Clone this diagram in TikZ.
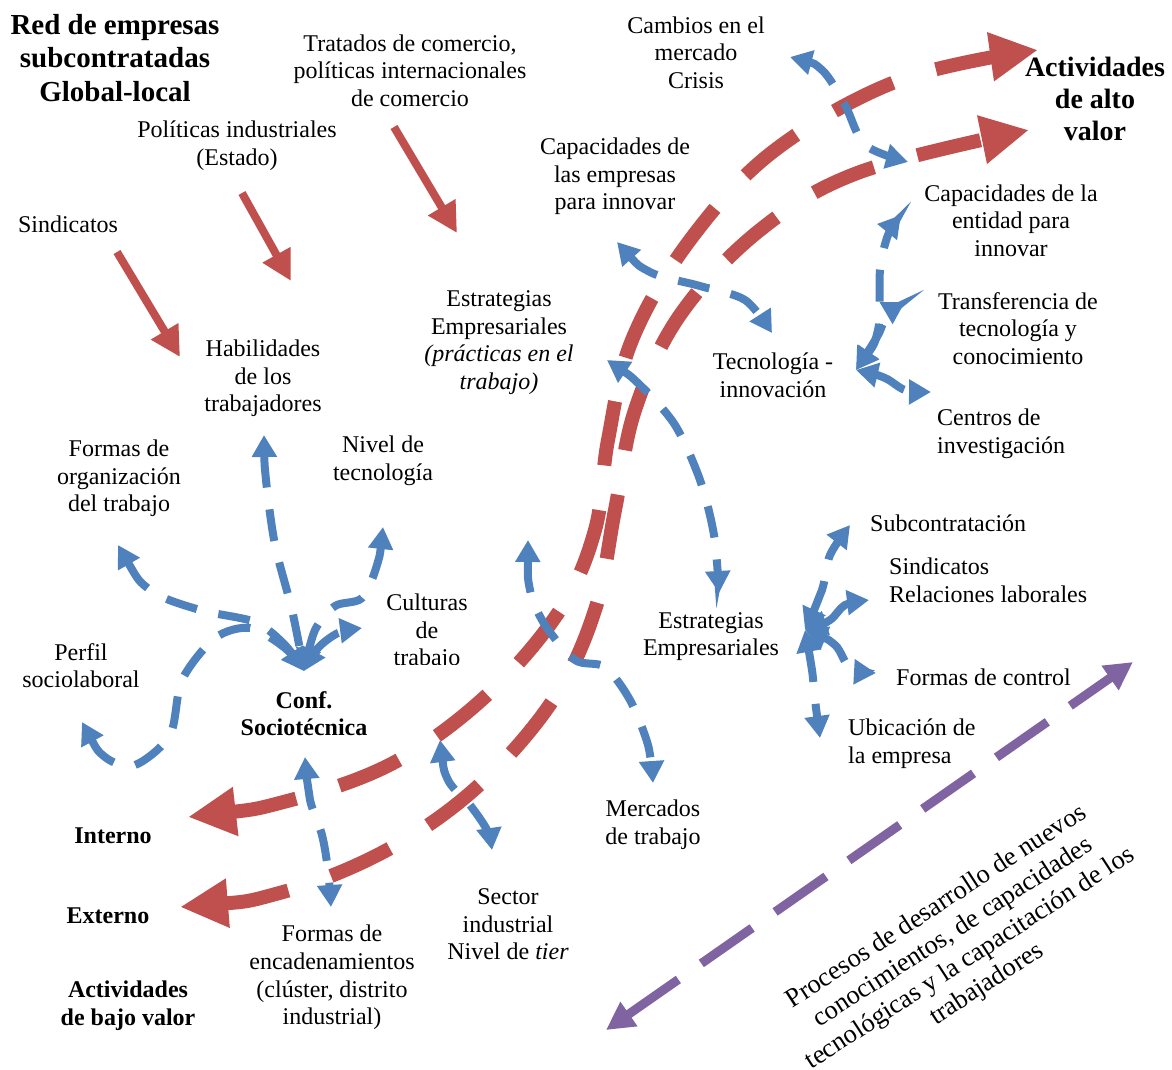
\documentclass[tikz,border=0pt]{standalone}
\usepackage{fontspec}
\setmainfont{Liberation Serif}
\usetikzlibrary{arrows.meta}
\definecolor{myred}{HTML}{C0504D}
\definecolor{myblue}{HTML}{4F81BD}
\definecolor{mypurple}{HTML}{8064A2}
\tikzset{
  txt/.style={align=center, inner sep=0pt, yshift=-2.5pt, font=\fontsize{24}{27.6}\selectfont},
  btxt/.style={align=center, inner sep=0pt, yshift=-2.5pt, font=\fontsize{24}{27.6}\selectfont\bfseries},
  ltxt/.style={align=left, inner sep=0pt, yshift=-2.5pt, anchor=west, font=\fontsize{24}{27.6}\selectfont},
  redstraight/.style={draw=myred, line width=8pt, -{Triangle[length=30pt,width=30pt]}},
  redcurve/.style={draw=myred, line width=14pt, dash pattern=on 65pt off 45pt,
    {Triangle[length=48pt,width=46pt]}-{Triangle[length=48pt,width=46pt]}},
  bluecurve/.style={draw=myblue, line width=8pt, dash pattern=on 32pt off 22pt,
    {Triangle[length=22pt,width=24pt]}-{Triangle[length=22pt,width=24pt]}},
  purplecurve/.style={draw=mypurple, line width=9pt, dash pattern=on 62pt off 28pt,
    {Triangle[length=28pt,width=28pt]}-{Triangle[length=28pt,width=28pt]}},
}
\begin{document}
\begin{tikzpicture}[x=1pt,y=-1pt]
\useasboundingbox (0,0) rectangle (1172,1069);

% ---------- text nodes ----------
\node[align=center, inner sep=0pt, yshift=-1pt, font=\fontsize{29}{33.4}\selectfont\bfseries] (title) at (115,57) {Red de empresas\\subcontratadas\\Global-local};
\node[txt] (tratados) at (410,68) {Tratados de comercio,\\políticas internacionales\\de comercio};
\node[txt] (politicas) at (237,143) {Políticas industriales\\(Estado)};
\node[txt] (sind1) at (68,222) {Sindicatos};
\node[txt] (cambios) at (696,50) {Cambios en el\\mercado\\Crisis};
\node[txt] (capemp) at (615,174) {Capacidades de\\las empresas\\para innovar};
\node[align=center, inner sep=0pt, yshift=-1pt, font=\fontsize{28}{32.2}\selectfont\bfseries] (alto) at (1095,98) {Actividades\\de alto\\valor};
\node[txt] (capent) at (1011,218) {Capacidades de la\\entidad para\\innovar};
\node[txt] (transf) at (1018,326) {Transferencia de\\tecnología y\\conocimiento};
\node[txt] (tecinn) at (773,373) {Tecnología -\\innovación};
\node[ltxt] (centros) at (937,431) {Centros de\\investigación};
\node[txt] (estrat1) at (499,340) {Estrategias\\Empresariales\\\textit{(prácticas en el}\\\textit{trabajo)}};
\node[txt] (habil) at (263,376) {Habilidades\\de los\\trabajadores};
\node[txt] (formorg) at (119,476) {Formas de\\organización\\del trabajo};
\node[txt] (niveltec) at (383,458) {Nivel de\\tecnología};
\begin{scope}
  \clip (370,585) rectangle (490,664);
  \node[txt] (culturas) at (427,630) {Culturas\\de\\trabajo};
\end{scope}
\node[txt] (perfil) at (81,663) {Perfil\\sociolaboral};
\node[btxt] (conf) at (304,711) {Conf.\\Sociotécnica};
\node[ltxt] (subc) at (870,521) {Subcontratación};
\node[ltxt] (sind2) at (889,578) {Sindicatos\\Relaciones laborales};
\node[txt] (estrat2) at (711,634) {Estrategias\\Empresariales};
\node[ltxt] (fctrl) at (896,675) {Formas de control};
\node[ltxt] (ubic) at (848,741) {Ubicación de\\la empresa};
\node[txt] (mercados) at (653,822) {Mercados\\de trabajo};
\node[btxt] (interno) at (113,833) {Interno};
\node[btxt] (externo) at (108,913) {Externo};
\node[btxt] (bajo) at (128,1003) {Actividades\\de bajo valor};
\node[txt] (encad) at (332,975) {Formas de\\encadenamientos\\(clúster, distrito\\industrial)};
\node[txt] (sector) at (508,922) {Sector\\industrial\\Nivel de \textit{tier}};
\node[align=center, inner sep=0pt, rotate=33, font=\fontsize{26.5}{30.8}\selectfont] (procesos) at (962,946) {Procesos de desarrollo de nuevos\\conocimientos, de capacidades\\tecnológicas y la capacitación de los\\trabajadores};

% ---------- connector end points ----------
\coordinate (rs1a) at (117,252); \coordinate (rs1b) at (180,357);
\coordinate (rs2a) at (242,193); \coordinate (rs2b) at (291,281);
\coordinate (rs3a) at (394,127); \coordinate (rs3b) at (457,233);

\coordinate (intTip) at (188,817);
\coordinate (altoTipA) at (1038,50);
\coordinate (extTip) at (180,907);
\coordinate (altoTipB) at (1029,130);

\coordinate (confTop) at (304,671);
\coordinate (habTip) at (264,435);
\coordinate (forgTip) at (118,545);
\coordinate (perfTip) at (82,722);
\coordinate (nivTip) at (383,527);
\coordinate (cultTip) at (362,628);
\coordinate (confBot) at (305,757);
\coordinate (encTip) at (331,907);
\coordinate (secTopTip) at (440,740);
\coordinate (secTip) at (492,850);
\coordinate (est1Tip) at (607,360);
\coordinate (est2Tip) at (719,593);
\coordinate (merTop) at (528,540);
\coordinate (merTip) at (653,783);
\coordinate (capempTip) at (617,242);
\coordinate (tecTip) at (772,333);
\coordinate (cambTip) at (790,57);
\coordinate (capentLow) at (908,162);
\coordinate (hubT) at (856,370);
\coordinate (capentTip) at (901,215);
\coordinate (transfTip) at (905,302);
\coordinate (centTip) at (931,392);
\coordinate (hubE) at (805,630);
\coordinate (subTip) at (850,525);
\coordinate (sinTip) at (869,600);
\coordinate (fcTip) at (876,673);
\coordinate (ubTip) at (820,738);
\coordinate (purA) at (606,1030);
\coordinate (purB) at (1133,662);

% ---------- red straight arrows ----------
\draw[redstraight] (rs1a) -- (rs1b);
\draw[redstraight] (rs2a) -- (rs2b);
\draw[redstraight] (rs3a) -- (rs3b);

% ---------- red dashed curves ----------
\draw[redcurve] plot[smooth, tension=0.6] coordinates {(intTip) (291,800) (395,762) (487,695) (560,610) (595,530) (608,440) (632,340) (690,240) (775,150) (900,80) (altoTipA)};
\draw[redcurve] plot[smooth, tension=0.6] coordinates {(extTip) (283,892) (387,850) (477,787) (553,700) (595,610) (615,510) (635,410) (680,315) (760,230) (860,172) (altoTipB)};

% ---------- blue dashed arrows ----------
\draw[bluecurve] plot[smooth] coordinates {(habTip) (266,480) (275,545) (292,610) (confTop)};
\draw[bluecurve] plot[smooth] coordinates {(forgTip) (150,590) (200,610) (255,622) (285,645) (confTop)};
\draw[bluecurve] plot[smooth] coordinates {(perfTip) (105,757) (135,765) (170,735) (182,680) (215,638) (250,628) (285,648) (confTop)};
\draw[bluecurve] plot[smooth] coordinates {(nivTip) (377,565) (362,598) (335,606) (315,630) (confTop)};
\draw[bluecurve] plot[smooth] coordinates {(confTop) (318,648) (338,633) (cultTip)};
\draw[bluecurve] plot[smooth] coordinates {(confBot) (310,800) (322,835) (328,870) (encTip)};
\draw[bluecurve] plot[smooth] coordinates {(secTopTip) (448,780) (470,805) (487,830) (secTip)};
\draw[bluecurve] plot[smooth] coordinates {(est1Tip) (640,385) (675,425) (700,480) (714,535) (est2Tip)};
\draw[bluecurve] plot[smooth] coordinates {(merTop) (530,590) (545,625) (575,660) (605,667) (630,700) (648,745) (merTip)};
\draw[bluecurve] plot[smooth] coordinates {(capempTip) (650,272) (700,286) (745,300) (tecTip)};
\draw[bluecurve] plot[smooth] coordinates {(cambTip) (822,70) (845,105) (865,145) (capentLow)};
\draw[bluecurve] plot[smooth] coordinates {(hubT) (878,330) (880,270) (888,235) (capentTip)};
\draw[bluecurve] plot[smooth] coordinates {(hubT) (878,335) (887,315) (transfTip)};
\draw[bluecurve] plot[smooth] coordinates {(hubT) (885,378) (905,390) (centTip)};
\draw[bluecurve] plot[smooth] coordinates {(hubE) (822,590) (830,555) (subTip)};
\draw[bluecurve] plot[smooth] coordinates {(hubE) (830,620) (845,605) (sinTip)};
\draw[bluecurve] plot[smooth] coordinates {(hubE) (835,645) (850,668) (fcTip)};
\draw[bluecurve] plot[smooth] coordinates {(hubE) (812,670) (815,700) (ubTip)};

% ---------- purple arrow ----------
\draw[purplecurve] (purA) -- (purB);
\end{tikzpicture}
\end{document}
